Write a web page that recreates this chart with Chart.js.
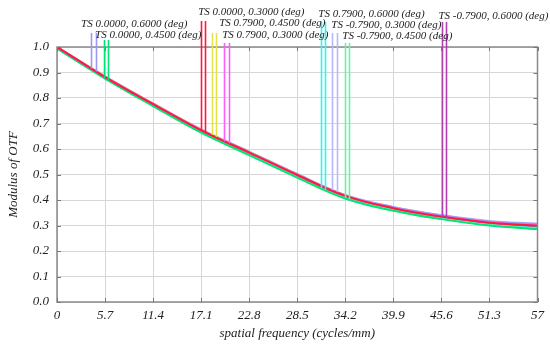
<!DOCTYPE html>
<html lang="en">
<head>
    <meta charset="UTF-8">
    <title>Modulus of OTF</title>
    <script src="https://cdn.jsdelivr.net/npm/chart.js"></script>
    <style>
        body {
            margin: 0;
            background: #ffffff;
        }
    </style>
</head>
<body>
    <canvas id="mtf" width="550" height="347"></canvas>
    <script>
        // spatial frequency samples (cycles/mm)
        const freq = [0, 5.7, 11.4, 17.1, 22.8, 28.5, 34.2, 39.9, 45.6, 51.3, 57];
        const xTicks = [0, 5.7, 11.4, 17.1, 22.8, 28.5, 34.2, 39.9, 45.6, 51.3, 57];

        // modulus, one list per field
        const f0_060 = [1.000, 0.884, 0.778, 0.676, 0.589, 0.501, 0.419, 0.372, 0.340, 0.316, 0.306];
        const f0_045 = [0.994, 0.876, 0.768, 0.664, 0.576, 0.488, 0.406, 0.358, 0.325, 0.300, 0.286];
        const f0_030 = [1.000, 0.882, 0.776, 0.673, 0.586, 0.498, 0.416, 0.368, 0.335, 0.311, 0.299];
        const f79_045 = [1.000, 0.885, 0.779, 0.677, 0.590, 0.501, 0.418, 0.370, 0.338, 0.314, 0.304];
        const f79_030 = [1.000, 0.883, 0.777, 0.674, 0.587, 0.499, 0.417, 0.369, 0.336, 0.312, 0.301];
        const f79_060 = [0.997, 0.879, 0.771, 0.668, 0.580, 0.491, 0.409, 0.361, 0.328, 0.303, 0.290];
        const fm79_030 = [1.000, 0.885, 0.779, 0.677, 0.590, 0.502, 0.420, 0.373, 0.341, 0.318, 0.308];
        const fm79_045 = [0.996, 0.878, 0.770, 0.666, 0.578, 0.490, 0.408, 0.360, 0.327, 0.302, 0.288];
        const fm79_060 = [0.999, 0.881, 0.774, 0.671, 0.584, 0.495, 0.413, 0.365, 0.332, 0.308, 0.295];

        const fieldNames = [
            'TS 0.0000, 0.6000 (deg)', 'TS 0.0000, 0.4500 (deg)', 'TS 0.0000, 0.3000 (deg)',
            'TS 0.7900, 0.4500 (deg)', 'TS 0.7900, 0.3000 (deg)', 'TS 0.7900, 0.6000 (deg)',
            'TS -0.7900, 0.3000 (deg)', 'TS -0.7900, 0.4500 (deg)', 'TS -0.7900, 0.6000 (deg)'
        ];
        const fieldData = [f0_060, f0_045, f0_030, f79_045, f79_030, f79_060, fm79_030, fm79_045, fm79_060];

        // frequencies where the T and S marker lines meet each curve
        const markerFreq = [
            [4.04, 4.63], [5.58, 6.06], [17.1, 17.58],
            [18.41, 18.88], [19.83, 20.43], [31.35, 31.83],
            [32.66, 33.25], [34.2, 34.67], [45.72, 46.19]
        ];

        // styling
        const colors = ['#9a9af2', '#00e676', '#ff1a3c', '#e4e44a', '#ff5cff', '#2cf6f6', '#b8b8ff', '#6ff0a0', '#b040b0'];
        const drawOrder = [5, 2, 0, 6, 1, 4, 7, 3, 8];
        // label placement: [dx from first marker line (px), label y (px), line top (px)]
        const labelPos = [
            [-10, 24, 33], [-9, 35, 40], [-3, 12, 21],
            [7, 23, 33], [-2, 35, 43], [-3, 14, 22],
            [-1, 25, 33], [-3, 36, 43], [-4, 16, 22]
        ];

        const serif = '"Liberation Serif", "DejaVu Serif", serif';

        function curveY(meta, px) {
            const pts = meta.data;
            for (let i = 0; i < pts.length - 1; i++) {
                const a = pts[i], b = pts[i + 1];
                if (px < a.x || px > b.x) continue;
                const c1x = a.cp2x ?? a.x, c1y = a.cp2y ?? a.y;
                const c2x = b.cp1x ?? b.x, c2y = b.cp1y ?? b.y;
                const bez = (t, p0, p1, p2, p3) => {
                    const u = 1 - t;
                    return u * u * u * p0 + 3 * u * u * t * p1 + 3 * u * t * t * p2 + t * t * t * p3;
                };
                let lo = 0, hi = 1;
                for (let k = 0; k < 30; k++) {
                    const mid = (lo + hi) / 2;
                    if (bez(mid, a.x, c1x, c2x, b.x) < px) lo = mid; else hi = mid;
                }
                return bez((lo + hi) / 2, a.y, c1y, c2y, b.y);
            }
            return pts[pts.length - 1].y;
        }

        const frame = {
            id: 'frame',
            afterDatasetsDraw(chart) {
                const {ctx, chartArea: a, scales: {x, y}} = chart;
                ctx.save();
                // border box
                ctx.strokeStyle = '#8a8a8a';
                ctx.lineWidth = 1.5;
                ctx.strokeRect(a.left, a.top, a.right - a.left, a.bottom - a.top);
                // inward tick marks
                ctx.lineWidth = 1;
                ctx.strokeStyle = '#777';
                ctx.beginPath();
                xTicks.forEach(v => {
                    const px = Math.round(x.getPixelForValue(v)) + 0.5;
                    ctx.moveTo(px, a.bottom); ctx.lineTo(px, a.bottom - 4);
                    ctx.moveTo(px, a.top); ctx.lineTo(px, a.top + 4);
                });
                y.ticks.forEach(t => {
                    const py = Math.round(y.getPixelForValue(t.value)) + 0.5;
                    ctx.moveTo(a.left, py); ctx.lineTo(a.left + 4, py);
                    ctx.moveTo(a.right, py); ctx.lineTo(a.right - 4, py);
                });
                ctx.stroke();

                // marker lines and field labels
                ctx.lineWidth = 1.6;
                fieldNames.forEach((name, i) => {
                    const meta = chart.getDatasetMeta(i);
                    ctx.strokeStyle = colors[i];
                    markerFreq[i].forEach(f => {
                        const px = Math.round(x.getPixelForValue(f)) + 0.5;
                        ctx.beginPath();
                        ctx.moveTo(px, labelPos[i][2]);
                        ctx.lineTo(px, curveY(meta, px));
                        ctx.stroke();
                    });
                });
                ctx.fillStyle = '#222';
                ctx.font = 'italic 11px ' + serif;
                ctx.textBaseline = 'middle';
                fieldNames.forEach((name, i) => {
                    const px = x.getPixelForValue(markerFreq[i][0]) + labelPos[i][0];
                    ctx.fillText(name, px, labelPos[i][1]);
                });
                ctx.restore();
            }
        };

        new Chart(document.getElementById('mtf').getContext('2d'), {
            type: 'line',
            data: {
                datasets: fieldNames.map((name, i) => ({
                    label: name,
                    data: freq.map((f, j) => ({x: f, y: fieldData[i][j]})),
                    borderColor: colors[i],
                    borderWidth: 2,
                    pointRadius: 0,
                    fill: false,
                    tension: 0.4,
                    order: drawOrder[i]
                }))
            },
            options: {
                responsive: false,
                animation: false,
                layout: { padding: { top: 47, right: 12, left: 0, bottom: 0 } },
                plugins: {
                    legend: { display: false },
                    tooltip: { enabled: false }
                },
                scales: {
                    x: {
                        type: 'linear',
                        min: 0,
                        max: 57,
                        afterBuildTicks: s => { s.ticks = xTicks.map(v => ({value: v})); },
                        afterFit: s => { s.height = 45; },
                        grid: { color: '#d6d6d6', drawTicks: false },
                        border: { display: false },
                        ticks: {
                            padding: 6,
                            color: '#222',
                            font: { family: serif, size: 13, style: 'italic' },
                            maxRotation: 0,
                            callback: v => String(v)
                        },
                        title: {
                            display: true,
                            text: 'spatial frequency (cycles/mm)',
                            color: '#222',
                            font: { family: serif, size: 13, style: 'italic' },
                            padding: { top: 0, bottom: 6 }
                        }
                    },
                    y: {
                        min: 0,
                        max: 1,
                        afterFit: s => { s.width = 57; },
                        grid: { color: '#d6d6d6', drawTicks: false },
                        border: { display: false },
                        ticks: {
                            stepSize: 0.1,
                            padding: 8,
                            color: '#222',
                            font: { family: serif, size: 13, style: 'italic' },
                            callback: v => v.toFixed(1)
                        },
                        title: {
                            display: true,
                            text: 'Modulus of OTF',
                            color: '#222',
                            font: { family: serif, size: 13, style: 'italic' },
                            padding: { top: 6, bottom: 0 }
                        }
                    }
                }
            },
            plugins: [frame]
        });
    </script>
</body>
</html>
